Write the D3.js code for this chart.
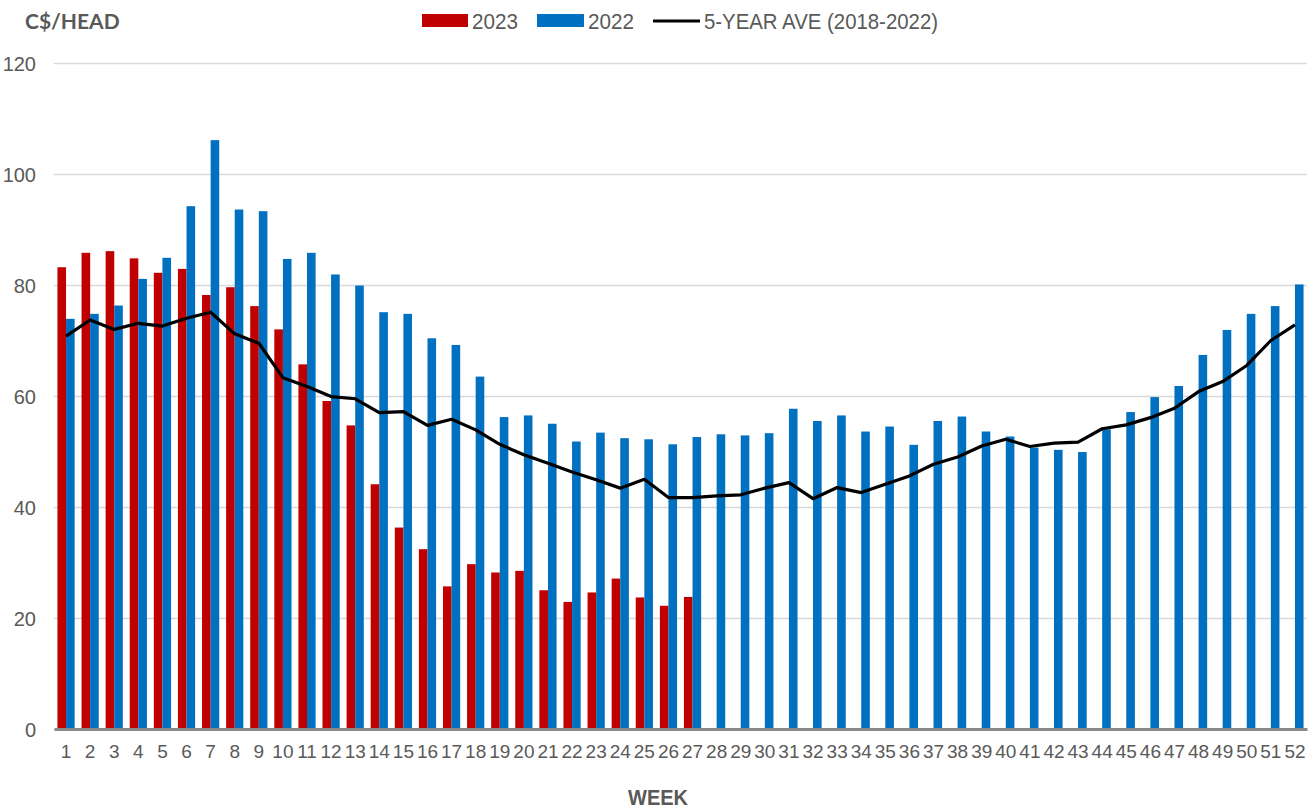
<!DOCTYPE html>
<html>
<head>
<meta charset="utf-8">
<script src="https://cdn.jsdelivr.net/npm/d3@7"></script>
<style>
  body { margin: 0; background: #fff; }
  .tick text { font-family: "Liberation Sans Narrow", "Arial Narrow", sans-serif; fill: #595959; }
</style>
</head>
<body>
<script>
var width = 1311, height = 810;

// weeks 1..52
const weeks = d3.range(1, 53);
// 2023 prices, weeks 1-27
const y2023 = [83.2, 85.8, 86.1, 84.8, 82.2, 82.9, 78.2, 79.6, 76.2, 72.0,
  65.7, 59.1, 54.7, 44.1, 36.3, 32.4, 25.7, 29.7, 28.2, 28.5,
  25.0, 22.9, 24.6, 27.1, 23.7, 22.2, 23.8];
// 2022 prices
const y2022 = [73.9, 74.8, 76.3, 81.1, 84.9, 94.2, 106.1, 93.6, 93.3, 84.7,
  85.8, 81.9, 79.9, 75.1, 74.8, 70.4, 69.2, 63.5, 56.2, 56.5,
  55.0, 51.8, 53.4, 52.4, 52.2, 51.3, 52.6, 53.1, 52.9, 53.3,
  57.7, 55.5, 56.5, 53.6, 54.5, 51.2, 55.5, 56.3, 53.6, 52.7,
  50.7, 50.3, 49.9, 54.0, 57.1, 59.8, 61.8, 67.4, 71.9, 74.8,
  76.2, 80.1];
// 5-year average 2018-2022
const avg5 = [70.8, 73.7, 72.0, 73.1, 72.6, 74.0, 75.1, 71.2, 69.5, 63.3,
  61.7, 59.9, 59.5, 57.0, 57.2, 54.7, 55.8, 53.9, 51.3, 49.4,
  47.9, 46.3, 44.9, 43.4, 45.0, 41.7, 41.7, 42.0, 42.2, 43.4,
  44.4, 41.5, 43.5, 42.6, 44.1, 45.6, 47.7, 49.0, 51.0, 52.2,
  50.9, 51.5, 51.7, 54.1, 54.8, 56.1, 57.8, 60.8, 62.6, 65.5,
  70.0, 72.8];
const yTicks = [0, 20, 40, 60, 80, 100, 120];

const x = d3.scaleBand().domain(weeks).range([54, 1307]);
const y = d3.scaleLinear().domain([0, 120]).range([729, 63]);
const barW = 8.6;

var svg = d3.select("body").append("svg")
  .attr("width", width).attr("height", height);

// gridlines + y labels
svg.append("g")
  .attr("transform", "translate(54,0)")
  .call(d3.axisLeft(y).tickValues(yTicks).tickSize(-1253).tickPadding(18))
  .call(g => g.select(".domain").remove())
  .call(g => g.selectAll(".tick line").attr("stroke", "#d9d9d9").attr("stroke-width", 1.5))
  .call(g => g.selectAll(".tick text").attr("font-size", 20).attr("dy", "0.35em"));

// bars
svg.append("g").selectAll("rect")
  .data(y2023)
  .join("rect")
    .attr("x", (d, i) => x(weeks[i]) + x.bandwidth() / 2 - barW)
    .attr("y", d => y(d))
    .attr("width", barW)
    .attr("height", d => y(0) - y(d))
    .attr("fill", "#c00000");

svg.append("g").selectAll("rect")
  .data(y2022)
  .join("rect")
    .attr("x", (d, i) => x(weeks[i]) + x.bandwidth() / 2)
    .attr("y", d => y(d))
    .attr("width", barW)
    .attr("height", d => y(0) - y(d))
    .attr("fill", "#0070c0");

// x axis
svg.append("g")
  .attr("transform", "translate(0," + y(0) + ")")
  .call(d3.axisBottom(x).tickSize(0).tickPadding(16))
  .call(g => g.select(".domain").attr("stroke", "#898989").attr("stroke-width", 3))
  .call(g => g.selectAll(".tick text").attr("font-size", 19));

// 5-yr average line
const line = d3.line()
  .x((d, i) => x(weeks[i]) + x.bandwidth() / 2)
  .y(d => y(d));
svg.append("path")
  .datum(avg5)
  .attr("d", line)
  .attr("fill", "none")
  .attr("stroke", "#000")
  .attr("stroke-width", 3.2)
  .attr("stroke-linejoin", "round");

// titles
svg.append("text")
  .attr("x", 25).attr("y", 29)
  .attr("font-family", "Lato, sans-serif")
  .attr("font-weight", "bold")
  .attr("font-size", 21)
  .attr("fill", "#595959")
  .text("C$/HEAD");

svg.append("text")
  .attr("x", 628).attr("y", 805)
  .attr("font-family", "'Liberation Sans Narrow', 'Arial Narrow', sans-serif")
  .attr("font-weight", "bold")
  .attr("font-size", 22)
  .attr("fill", "#595959")
  .attr("textLength", 60)
  .attr("lengthAdjust", "spacingAndGlyphs")
  .text("WEEK");

// legend
const legend = svg.append("g")
  .attr("font-family", "'Liberation Sans Narrow', 'Arial Narrow', sans-serif")
  .attr("font-size", 22)
  .attr("fill", "#595959");
legend.append("rect").attr("x", 422).attr("y", 14).attr("width", 46).attr("height", 13).attr("fill", "#c00000");
legend.append("text").attr("x", 472).attr("y", 29).attr("textLength", 46)
  .attr("lengthAdjust", "spacingAndGlyphs").text("2023");
legend.append("rect").attr("x", 537).attr("y", 14).attr("width", 47).attr("height", 13).attr("fill", "#0070c0");
legend.append("text").attr("x", 588).attr("y", 29).attr("textLength", 46)
  .attr("lengthAdjust", "spacingAndGlyphs").text("2022");
legend.append("line").attr("x1", 653).attr("x2", 700).attr("y1", 21).attr("y2", 21)
  .attr("stroke", "#000").attr("stroke-width", 3);
legend.append("text").attr("x", 704).attr("y", 29).attr("textLength", 234)
  .attr("lengthAdjust", "spacingAndGlyphs").text("5-YEAR AVE (2018-2022)");
</script>
</body>
</html>
